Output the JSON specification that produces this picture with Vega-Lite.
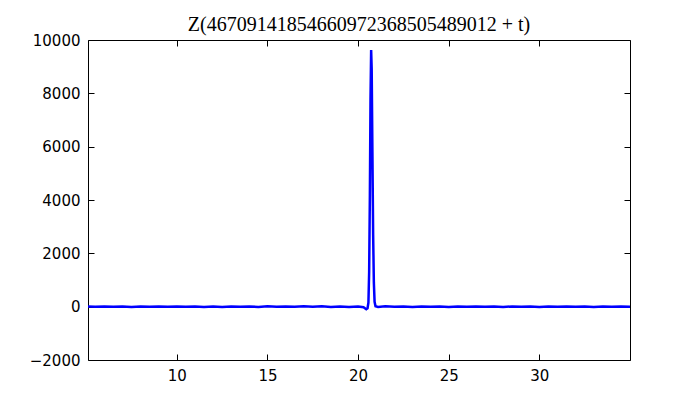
{
  "$schema": "https://vega.github.io/schema/vega-lite/v6.json",
  "width": 542,
  "height": 320,
  "autosize": "none",
  "padding": {"left": 88, "top": 40, "right": 70, "bottom": 40},
  "background": "white",
  "title": {
    "text": "Z(46709141854660972368505489012 + t)",
    "font": "Liberation Serif",
    "fontSize": 20,
    "fontWeight": "normal",
    "color": "black",
    "baseline": "bottom",
    "offset": -22,
    "anchor": "middle"
  },
  "config": {
    "view": {"stroke": "black", "strokeWidth": 1},
    "axis": {
      "labelFont": "DejaVu Sans",
      "labelFontSize": 15,
      "labelColor": "black",
      "tickColor": "black",
      "tickSize": -6,
      "tickWidth": 1,
      "domain": false,
      "grid": false,
      "title": null,
      "format": "d"
    }
  },
  "data": {
    "values": [
      {"t": 5.1, "z": 3}, {"t": 5.5, "z": -6}, {"t": 6.0, "z": 8}, {"t": 6.5, "z": -4},
      {"t": 7.0, "z": 5}, {"t": 7.5, "z": -9}, {"t": 8.0, "z": 6}, {"t": 8.5, "z": -3},
      {"t": 9.0, "z": 10}, {"t": 9.5, "z": -7}, {"t": 10.0, "z": 4}, {"t": 10.5, "z": -5},
      {"t": 11.0, "z": 9}, {"t": 11.5, "z": -8}, {"t": 12.0, "z": 3}, {"t": 12.5, "z": -10},
      {"t": 13.0, "z": 7}, {"t": 13.5, "z": -4}, {"t": 14.0, "z": 6}, {"t": 14.5, "z": -9},
      {"t": 15.0, "z": 11}, {"t": 15.5, "z": -5}, {"t": 16.0, "z": 8}, {"t": 16.5, "z": -7},
      {"t": 17.0, "z": 12}, {"t": 17.5, "z": -6}, {"t": 18.0, "z": 14}, {"t": 18.5, "z": -8},
      {"t": 19.0, "z": 10}, {"t": 19.5, "z": -12}, {"t": 20.0, "z": 9}, {"t": 20.3, "z": -20},
      {"t": 20.45, "z": -95}, {"t": 20.52, "z": -60}, {"t": 20.57, "z": 150},
      {"t": 20.61, "z": 1300}, {"t": 20.65, "z": 4200}, {"t": 20.685, "z": 7800},
      {"t": 20.72, "z": 9620}, {"t": 20.75, "z": 8900}, {"t": 20.79, "z": 5800},
      {"t": 20.83, "z": 2700}, {"t": 20.87, "z": 900}, {"t": 20.91, "z": 180},
      {"t": 20.96, "z": 15}, {"t": 21.1, "z": -8}, {"t": 21.5, "z": 12}, {"t": 22.0, "z": -6},
      {"t": 22.5, "z": 9}, {"t": 23.0, "z": -10}, {"t": 23.5, "z": 7}, {"t": 24.0, "z": -5},
      {"t": 24.5, "z": 8}, {"t": 25.0, "z": -9}, {"t": 25.5, "z": 6}, {"t": 26.0, "z": -4},
      {"t": 26.5, "z": 10}, {"t": 27.0, "z": -7}, {"t": 27.5, "z": 5}, {"t": 28.0, "z": -8},
      {"t": 28.5, "z": 9}, {"t": 29.0, "z": -5}, {"t": 29.5, "z": 7}, {"t": 30.0, "z": -10},
      {"t": 30.5, "z": 6}, {"t": 31.0, "z": -4}, {"t": 31.5, "z": 8}, {"t": 32.0, "z": -6},
      {"t": 32.5, "z": 5}, {"t": 33.0, "z": -9}, {"t": 33.5, "z": 7}, {"t": 34.0, "z": -3},
      {"t": 34.5, "z": 6}, {"t": 35.0, "z": -5}
    ]
  },
  "layer": [
    {
      "mark": {"type": "line", "color": "#0000ff", "strokeWidth": 2.5, "clip": true},
      "encoding": {
        "x": {
          "field": "t", "type": "quantitative",
          "scale": {"domain": [5.1, 35], "nice": false, "zero": false},
          "axis": {"orient": "bottom", "values": [10, 15, 20, 25, 30], "labelPadding": 14}
        },
        "y": {
          "field": "z", "type": "quantitative",
          "scale": {"domain": [-2000, 10000], "nice": false},
          "axis": {"orient": "left", "values": [-2000, 0, 2000, 4000, 6000, 8000, 10000], "labelPadding": 14}
        }
      }
    },
    {
      "mark": {"type": "point", "opacity": 0},
      "encoding": {
        "x": {
          "field": "t", "type": "quantitative",
          "axis": {"orient": "top", "values": [10, 15, 20, 25, 30], "labels": false}
        },
        "y": {
          "field": "z", "type": "quantitative",
          "axis": {"orient": "right", "values": [-2000, 0, 2000, 4000, 6000, 8000, 10000], "labels": false}
        }
      }
    }
  ],
  "resolve": {"axis": {"x": "independent", "y": "independent"}}
}
